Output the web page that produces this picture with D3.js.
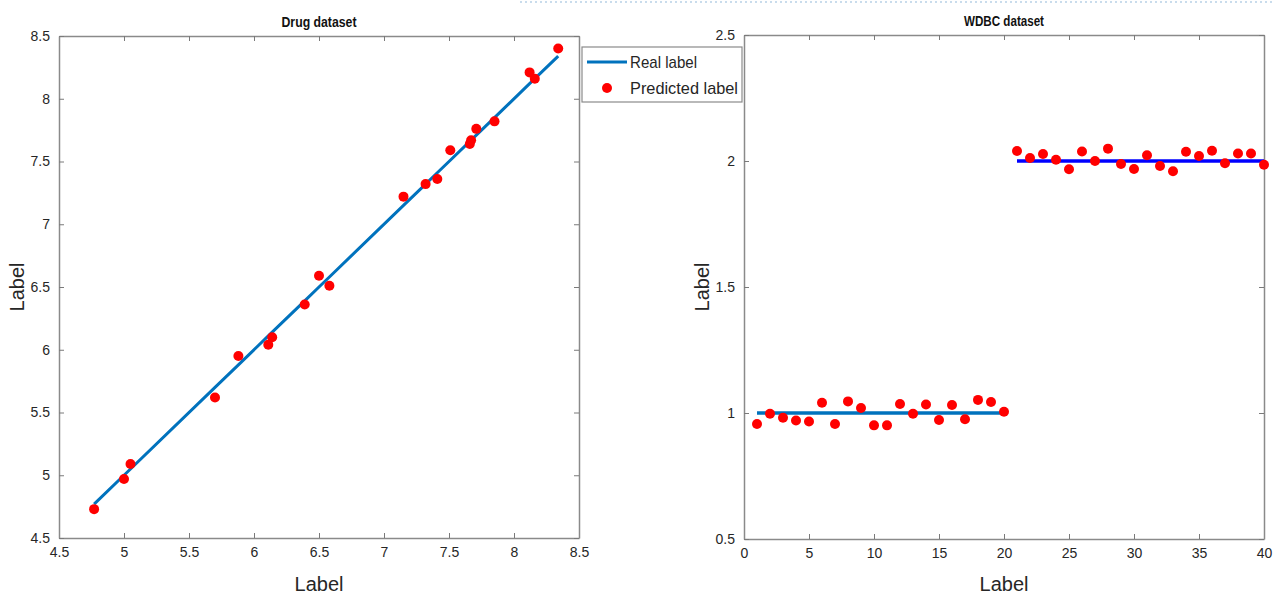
<!DOCTYPE html>
<html>
<head>
<meta charset="utf-8">
<script src="https://cdn.jsdelivr.net/npm/d3@7"></script>
<style>
  body { margin: 0; background: #fff; }
  svg { display: block; font-family: "Liberation Sans Narrow", "Arial Narrow", "Liberation Sans", sans-serif; }
  .tick text { fill: #262626; font-size: 14px; }
  .tick line { stroke: #7a7a7a; }
</style>
</head>
<body>
<svg id="chart" width="1273" height="595"></svg>
<script>
// Drug dataset: real label (x) vs predicted label (y)
const drugReal = [4.77, 5.00, 5.05, 5.70, 5.88, 6.11, 6.14, 6.39, 6.50, 6.58,
                  7.15, 7.32, 7.41, 7.51, 7.66, 7.67, 7.71, 7.85, 8.12, 8.16, 8.34];
const drugPred = [4.73, 4.97, 5.09, 5.62, 5.95, 6.04, 6.10, 6.36, 6.59, 6.51,
                  7.22, 7.32, 7.36, 7.59, 7.64, 7.67, 7.76, 7.82, 8.21, 8.16, 8.40];

// WDBC dataset: sample index, real class, predicted class
const wdbcIndex = [1, 2, 3, 4, 5, 6, 7, 8, 9, 10, 11, 12, 13, 14, 15, 16, 17, 18, 19, 20,
                   21, 22, 23, 24, 25, 26, 27, 28, 29, 30, 31, 32, 33, 34, 35, 36, 37, 38, 39, 40];
const wdbcReal = [1, 1, 1, 1, 1, 1, 1, 1, 1, 1, 1, 1, 1, 1, 1, 1, 1, 1, 1, 1,
                  2, 2, 2, 2, 2, 2, 2, 2, 2, 2, 2, 2, 2, 2, 2, 2, 2, 2, 2, 2];
const wdbcPred = [0.956, 0.997, 0.981, 0.970, 0.966, 1.041, 0.956, 1.046, 1.020, 0.951,
                  0.951, 1.036, 0.997, 1.034, 0.972, 1.032, 0.975, 1.052, 1.044, 1.005,
                  2.040, 2.012, 2.028, 2.005, 1.967, 2.038, 2.000, 2.049, 1.988, 1.968,
                  2.023, 1.980, 1.959, 2.037, 2.020, 2.041, 1.991, 2.030, 2.030, 1.985];

const drugXTicks = [4.5, 5, 5.5, 6, 6.5, 7, 7.5, 8, 8.5];
const drugYTicks = [4.5, 5, 5.5, 6, 6.5, 7, 7.5, 8, 8.5];
const wdbcXTicks = [0, 5, 10, 15, 20, 25, 30, 35, 40];
const wdbcYTicks = [0.5, 1, 1.5, 2, 2.5];

const legendLabels = ['Real label', 'Predicted label'];

const svg = d3.select('#chart');
const fmt = d => String(d);

// faint dotted strip at the very top of the screenshot
svg.append('line')
    .attr('x1', 520).attr('x2', 1273).attr('y1', 2).attr('y2', 2)
    .attr('stroke', '#c9dcec').attr('stroke-width', 2)
    .attr('stroke-dasharray', '2,3');

function drawPanel(opts) {
    const { left, right, top, bottom, xDomain, yDomain, xTicks, yTicks, title, titleWidth } = opts;
    const x = d3.scaleLinear().domain(xDomain).range([left, right]);
    const y = d3.scaleLinear().domain(yDomain).range([bottom, top]);
    const g = svg.append('g');

    // box axes, MATLAB-style ticks pointing inward
    const axes = [
        [d3.axisBottom(x).tickValues(xTicks).tickFormat(fmt), `translate(0,${bottom})`],
        [d3.axisTop(x).tickValues(xTicks).tickFormat(''), `translate(0,${top})`],
        [d3.axisLeft(y).tickValues(yTicks).tickFormat(fmt), `translate(${left},0)`],
        [d3.axisRight(y).tickValues(yTicks).tickFormat(''), `translate(${right},0)`]
    ];
    axes.forEach(([ax, tr]) => {
        const a = g.append('g').attr('transform', tr)
            .call(ax.tickSizeInner(-5).tickSizeOuter(0).tickPadding(9));
        a.select('.domain').attr('stroke', '#8a8a8a').attr('stroke-width', 1.5);
    });

    g.append('text')
        .attr('x', (left + right) / 2).attr('y', top - 9)
        .attr('text-anchor', 'middle')
        .attr('font-size', 15).attr('font-weight', 'bold').attr('fill', '#111')
        .attr('textLength', titleWidth).attr('lengthAdjust', 'spacingAndGlyphs')
        .text(title);

    g.append('text')
        .attr('x', (left + right) / 2).attr('y', 591)
        .attr('text-anchor', 'middle')
        .attr('font-size', 20).attr('fill', '#262626')
        .text('Label');

    g.append('text')
        .attr('transform', `translate(${left - 35},${(top + bottom) / 2}) rotate(-90)`)
        .attr('text-anchor', 'middle')
        .attr('font-size', 20).attr('fill', '#262626')
        .text('Label');

    return { g, x, y };
}

// left panel: Drug dataset
const p1 = drawPanel({
    left: 59, right: 579, top: 36, bottom: 538,
    xDomain: [4.5, 8.5], yDomain: [4.5, 8.5],
    xTicks: drugXTicks, yTicks: drugYTicks, title: 'Drug dataset', titleWidth: 75
});

p1.g.append('path')
    .datum(drugReal)
    .attr('fill', 'none')
    .attr('stroke', '#0072BD')
    .attr('stroke-width', 3)
    .attr('d', d3.line().x(d => p1.x(d)).y(d => p1.y(d)));

p1.g.selectAll('circle.pred')
    .data(drugReal.map((r, i) => [r, drugPred[i]]))
    .join('circle')
    .attr('class', 'pred')
    .attr('cx', d => p1.x(d[0]))
    .attr('cy', d => p1.y(d[1]))
    .attr('r', 5)
    .attr('fill', '#ff0000');

// right panel: WDBC dataset
const p2 = drawPanel({
    left: 744, right: 1264, top: 35, bottom: 539,
    xDomain: [0, 40], yDomain: [0.5, 2.5],
    xTicks: wdbcXTicks, yTicks: wdbcYTicks, title: 'WDBC dataset', titleWidth: 80
});

const wdbcPts = wdbcIndex.map((k, i) => ({ k, real: wdbcReal[i], pred: wdbcPred[i] }));
const classes = [1, 2];
const classColor = { 1: '#0072BD', 2: '#0000FF' };

classes.forEach(c => {
    p2.g.append('path')
        .datum(wdbcPts.filter(d => d.real === c))
        .attr('fill', 'none')
        .attr('stroke', classColor[c])
        .attr('stroke-width', 3.5)
        .attr('d', d3.line().x(d => p2.x(d.k)).y(d => p2.y(d.real)));
});

p2.g.selectAll('circle.pred')
    .data(wdbcPts)
    .join('circle')
    .attr('class', 'pred')
    .attr('cx', d => p2.x(d.k))
    .attr('cy', d => p2.y(d.pred))
    .attr('r', 5)
    .attr('fill', '#ff0000');

// legend between the panels
const legendWidths = [67, 108];
const legend = svg.append('g').attr('transform', 'translate(582,47)');
legend.append('rect')
    .attr('width', 160).attr('height', 55)
    .attr('fill', '#fff').attr('stroke', '#8a8a8a').attr('stroke-width', 1.2);
legend.append('line')
    .attr('x1', 5).attr('x2', 45).attr('y1', 15).attr('y2', 15)
    .attr('stroke', '#0072BD').attr('stroke-width', 3);
legend.append('circle')
    .attr('cx', 25).attr('cy', 41).attr('r', 5).attr('fill', '#ff0000');
legend.selectAll('text')
    .data(legendLabels)
    .join('text')
    .attr('x', 48)
    .attr('y', (d, i) => 21 + i * 26)
    .attr('font-size', 17)
    .attr('fill', '#262626')
    .attr('textLength', (d, i) => legendWidths[i])
    .attr('lengthAdjust', 'spacingAndGlyphs')
    .text(d => d);
</script>
</body>
</html>
